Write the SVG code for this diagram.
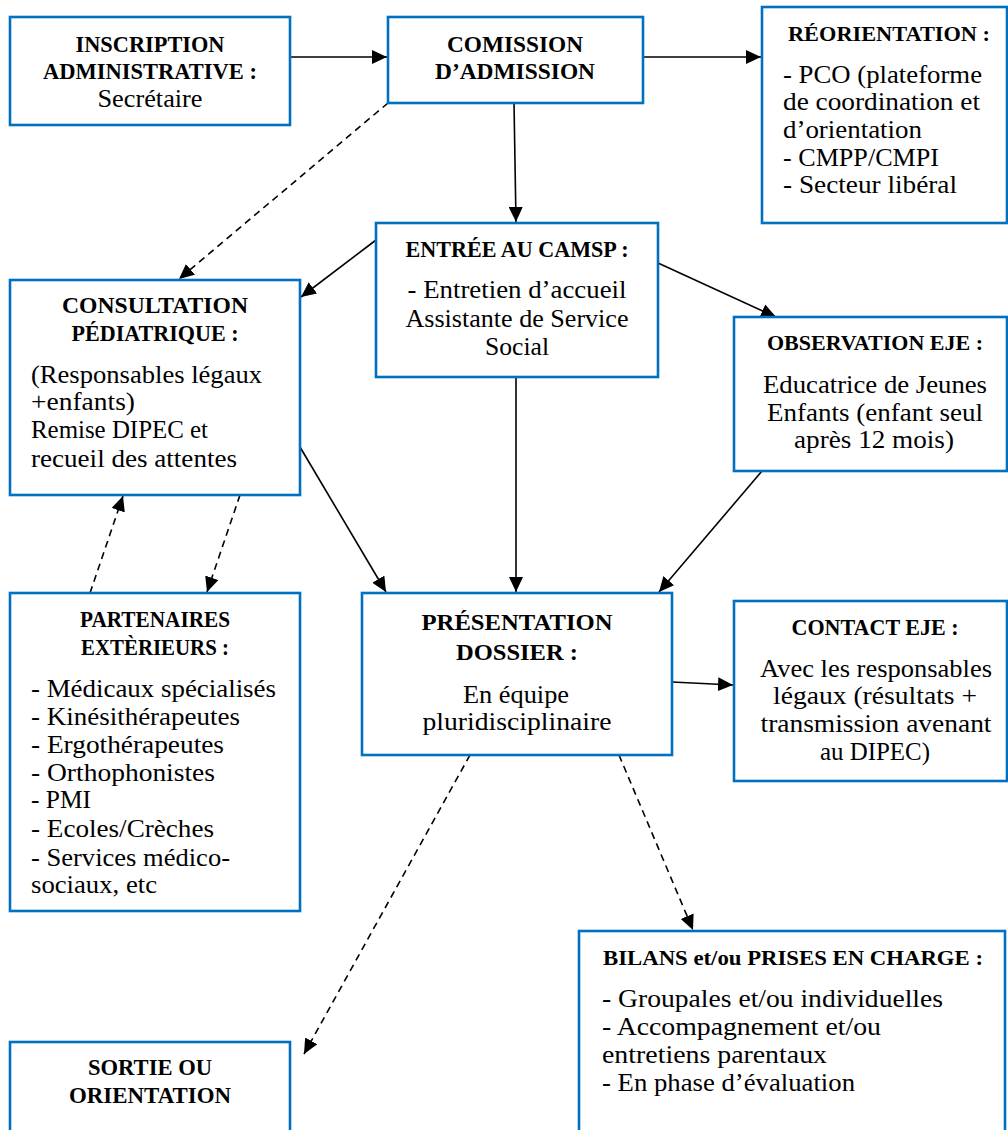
<svg xmlns="http://www.w3.org/2000/svg" width="1008" height="1130" viewBox="0 0 1008 1130">
<style>
.box{fill:#fff;stroke:#0070C0;stroke-width:2.6}
.t{font-family:"Liberation Serif","Times New Roman",serif;font-weight:bold;font-size:24px;fill:#000}
.t2{font-size:22px}
.b{font-family:"Liberation Serif","Times New Roman",serif;font-size:25px;fill:#000}
.c{text-anchor:middle}
.ln{stroke:#000;stroke-width:1.6;fill:none}
.d{stroke-dasharray:7 5}
</style>
<defs>
<marker id="ah" markerUnits="userSpaceOnUse" markerWidth="16" markerHeight="14" refX="15" refY="7" orient="auto">
<path d="M0,0 L15,7 L0,14 z" fill="#000"/>
</marker>
</defs>
<rect width="1008" height="1130" fill="#fff"/>
<g id="connectors">
<line class="ln" x1="290" y1="57" x2="387" y2="57" marker-end="url(#ah)"/>
<line class="ln" x1="643" y1="57" x2="761" y2="57" marker-end="url(#ah)"/>
<line class="ln" x1="514" y1="103" x2="516" y2="222" marker-end="url(#ah)"/>
<line class="ln d" x1="388" y1="103" x2="179" y2="279" marker-end="url(#ah)"/>
<line class="ln" x1="376" y1="240" x2="301" y2="297" marker-end="url(#ah)"/>
<line class="ln" x1="658" y1="263" x2="776" y2="317" marker-end="url(#ah)"/>
<line class="ln" x1="516" y1="377" x2="516" y2="592" marker-end="url(#ah)"/>
<line class="ln" x1="300" y1="447" x2="386" y2="592" marker-end="url(#ah)"/>
<line class="ln" x1="762" y1="471" x2="659" y2="592" marker-end="url(#ah)"/>
<line class="ln d" x1="90" y1="593" x2="123" y2="496" marker-end="url(#ah)"/>
<line class="ln d" x1="240" y1="495" x2="207" y2="592" marker-end="url(#ah)"/>
<line class="ln" x1="672" y1="682" x2="733" y2="685" marker-end="url(#ah)"/>
<line class="ln d" x1="470" y1="755" x2="304" y2="1054" marker-end="url(#ah)"/>
<line class="ln d" x1="619" y1="755" x2="693" y2="930" marker-end="url(#ah)"/>
</g>
<g id="inscription">
<rect class="box" x="10" y="17" width="280" height="108"/>
<text class="t c" x="150" y="52" textLength="149" lengthAdjust="spacingAndGlyphs">INSCRIPTION</text>
<text class="t c" x="150" y="79" textLength="214" lengthAdjust="spacingAndGlyphs">ADMINISTRATIVE :</text>
<text class="b c" x="150" y="107" textLength="105" lengthAdjust="spacingAndGlyphs">Secrétaire</text>
</g>
<g id="commission">
<rect class="box" x="388" y="17" width="255" height="86"/>
<text class="t c" x="515" y="52" textLength="136" lengthAdjust="spacingAndGlyphs">COMISSION</text>
<text class="t c" x="515" y="79" textLength="160" lengthAdjust="spacingAndGlyphs">D’ADMISSION</text>
</g>
<g id="reorientation">
<rect class="box" x="762" y="7" width="245" height="216"/>
<text class="t t2" x="788" y="41" textLength="202" lengthAdjust="spacingAndGlyphs">RÉORIENTATION :</text>
<text class="b" x="783" y="83" textLength="199" lengthAdjust="spacingAndGlyphs">- PCO (plateforme</text>
<text class="b" x="783" y="110" textLength="197" lengthAdjust="spacingAndGlyphs">de coordination et</text>
<text class="b" x="783" y="138" textLength="139" lengthAdjust="spacingAndGlyphs">d’orientation</text>
<text class="b" x="783" y="166" textLength="156" lengthAdjust="spacingAndGlyphs">- CMPP/CMPI</text>
<text class="b" x="783" y="193" textLength="174" lengthAdjust="spacingAndGlyphs">- Secteur libéral</text>
</g>
<g id="entree">
<rect class="box" x="376" y="223" width="282" height="154"/>
<text class="t c" x="517" y="257" textLength="223" lengthAdjust="spacingAndGlyphs">ENTRÉE AU CAMSP :</text>
<text class="b c" x="517" y="298" textLength="219" lengthAdjust="spacingAndGlyphs">- Entretien d’accueil</text>
<text class="b c" x="517" y="327" textLength="223" lengthAdjust="spacingAndGlyphs">Assistante de Service</text>
<text class="b c" x="517" y="355" textLength="64" lengthAdjust="spacingAndGlyphs">Social</text>
</g>
<g id="consultation">
<rect class="box" x="10" y="280" width="290" height="215"/>
<text class="t c" x="155" y="313" textLength="186" lengthAdjust="spacingAndGlyphs">CONSULTATION</text>
<text class="t c" x="155" y="341" textLength="167" lengthAdjust="spacingAndGlyphs">PÉDIATRIQUE :</text>
<text class="b" x="31" y="383" textLength="231" lengthAdjust="spacingAndGlyphs">(Responsables légaux</text>
<text class="b" x="31" y="410" textLength="104" lengthAdjust="spacingAndGlyphs">+enfants)</text>
<text class="b" x="31" y="438" textLength="177" lengthAdjust="spacingAndGlyphs">Remise DIPEC et</text>
<text class="b" x="31" y="467" textLength="206" lengthAdjust="spacingAndGlyphs">recueil des attentes</text>
</g>
<g id="observation">
<rect class="box" x="734" y="317" width="273" height="154"/>
<text class="t t2 c" x="875" y="350" textLength="216" lengthAdjust="spacingAndGlyphs">OBSERVATION EJE :</text>
<text class="b c" x="875" y="393" textLength="224" lengthAdjust="spacingAndGlyphs">Educatrice de Jeunes</text>
<text class="b c" x="875" y="421" textLength="216" lengthAdjust="spacingAndGlyphs">Enfants (enfant seul</text>
<text class="b c" x="874" y="448" textLength="160" lengthAdjust="spacingAndGlyphs">après 12 mois)</text>
</g>
<g id="partenaires">
<rect class="box" x="10" y="593" width="290" height="318"/>
<text class="t c" x="155" y="627" textLength="150" lengthAdjust="spacingAndGlyphs">PARTENAIRES</text>
<text class="t c" x="155" y="655" textLength="148" lengthAdjust="spacingAndGlyphs">EXTÈRIEURS :</text>
<text class="b" x="31" y="697" textLength="245" lengthAdjust="spacingAndGlyphs">- Médicaux spécialisés</text>
<text class="b" x="31" y="725" textLength="209" lengthAdjust="spacingAndGlyphs">- Kinésithérapeutes</text>
<text class="b" x="31" y="753" textLength="193" lengthAdjust="spacingAndGlyphs">- Ergothérapeutes</text>
<text class="b" x="31" y="781" textLength="184" lengthAdjust="spacingAndGlyphs">- Orthophonistes</text>
<text class="b" x="31" y="808" textLength="60" lengthAdjust="spacingAndGlyphs">- PMI</text>
<text class="b" x="31" y="837" textLength="183" lengthAdjust="spacingAndGlyphs">- Ecoles/Crèches</text>
<text class="b" x="31" y="866" textLength="199" lengthAdjust="spacingAndGlyphs">- Services médico-</text>
<text class="b" x="31" y="893" textLength="126" lengthAdjust="spacingAndGlyphs">sociaux, etc</text>
</g>
<g id="presentation">
<rect class="box" x="362" y="593" width="310" height="162"/>
<text class="t c" x="517" y="630" textLength="191" lengthAdjust="spacingAndGlyphs">PRÉSENTATION</text>
<text class="t c" x="517" y="660" textLength="122" lengthAdjust="spacingAndGlyphs">DOSSIER :</text>
<text class="b c" x="516" y="703" textLength="106" lengthAdjust="spacingAndGlyphs">En équipe</text>
<text class="b c" x="517" y="730" textLength="189" lengthAdjust="spacingAndGlyphs">pluridisciplinaire</text>
</g>
<g id="contact">
<rect class="box" x="734" y="601" width="273" height="180"/>
<text class="t c" x="875" y="635" textLength="167" lengthAdjust="spacingAndGlyphs">CONTACT EJE :</text>
<text class="b c" x="876" y="677" textLength="232" lengthAdjust="spacingAndGlyphs">Avec les responsables</text>
<text class="b c" x="875" y="704" textLength="204" lengthAdjust="spacingAndGlyphs">légaux (résultats +</text>
<text class="b c" x="876" y="732" textLength="231" lengthAdjust="spacingAndGlyphs">transmission avenant</text>
<text class="b c" x="875" y="760" textLength="110" lengthAdjust="spacingAndGlyphs">au DIPEC)</text>
</g>
<g id="bilans">
<rect class="box" x="579" y="931" width="426" height="220"/>
<text class="t t2" x="603" y="965" textLength="380" lengthAdjust="spacingAndGlyphs">BILANS et/ou PRISES EN CHARGE :</text>
<text class="b" x="602" y="1007" textLength="341" lengthAdjust="spacingAndGlyphs">- Groupales et/ou individuelles</text>
<text class="b" x="602" y="1035" textLength="279" lengthAdjust="spacingAndGlyphs">- Accompagnement et/ou</text>
<text class="b" x="602" y="1063" textLength="225" lengthAdjust="spacingAndGlyphs">entretiens parentaux</text>
<text class="b" x="602" y="1091" textLength="253" lengthAdjust="spacingAndGlyphs">- En phase d’évaluation</text>
</g>
<g id="sortie">
<rect class="box" x="10" y="1042" width="280" height="110"/>
<text class="t c" x="150" y="1075" textLength="124" lengthAdjust="spacingAndGlyphs">SORTIE OU</text>
<text class="t c" x="150" y="1103" textLength="162" lengthAdjust="spacingAndGlyphs">ORIENTATION</text>
</g>
</svg>
